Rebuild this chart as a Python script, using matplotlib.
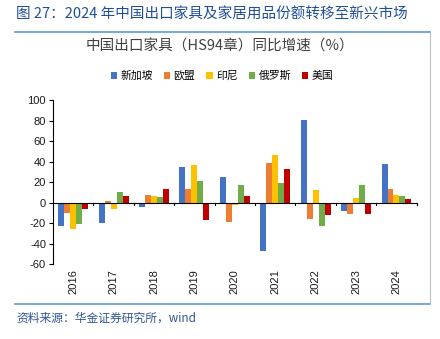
import matplotlib
matplotlib.use("Agg")
import matplotlib.pyplot as plt
import numpy as np
from matplotlib.lines import Line2D
from matplotlib.patches import Patch

plt.rcParams['font.family'] = ['Liberation Sans', 'Noto Sans CJK SC', 'DejaVu Sans']

years = ["2016", "2017", "2018", "2019", "2020", "2021", "2022", "2023", "2024"]
series_names = ["新加坡", "欧盟", "印尼", "俄罗斯", "美国"]
singapore = [-23, -19.5, -4, 35, 24.7, -47.5, 80.5, -8.4, 37.7]
eu = [-9.7, 1.4, 7.2, 13, -18.8, 38.3, -16.2, -11, 13.6]
indonesia = [-26, -6.5, 6.5, 37, -2, 46, 12.4, 4.6, 7.2]
russia = [-20.7, 10.4, 5.8, 21.4, 17.5, 19.5, -22.7, 17.5, 6.5]
usa = [-5.8, 6.5, 13.6, -16.8, 6.5, 33, -12.3, -11, 3.3]
series = [singapore, eu, indonesia, russia, usa]
colors = ["#4472C4", "#ED7D31", "#FFC000", "#70AD47", "#C00000"]

fig = plt.figure(figsize=(4.4, 3.39), dpi=100)
ax = fig.add_axes([0.1205, 0.2204, 0.947 - 0.1205, 0.705 - 0.2204])

x = np.arange(len(years))
w = 0.148
for i, (vals, c) in enumerate(zip(series, colors)):
    ax.bar(x + (i - 2) * w, vals, width=w, color=c, edgecolor='none', zorder=2)

ax.set_xlim(-0.5, len(years) - 0.5)
ax.set_ylim(-60, 100)
ax.set_yticks(np.arange(-60, 101, 20))
ax.set_yticklabels([str(v) for v in range(-60, 101, 20)], fontsize=8, color='#1a1a1a')
for s in ['top', 'right', 'bottom']:
    ax.spines[s].set_visible(False)
ax.spines['left'].set_color('#000000')
ax.spines['left'].set_linewidth(0.8)
ax.tick_params(axis='y', length=3, width=0.8, pad=2)
ax.axhline(0, color='#000000', lw=0.8, zorder=3)
ax.set_xticks([])
# category boundary ticks on zero line
for b in np.arange(0.5, len(years) - 0.5 + 1e-9, 1.0):
    ax.plot([b, b], [0, -1.8], color='#000000', lw=0.8, zorder=3, clip_on=False)
for xi, yl in zip(x, years):
    ax.text(xi, -0.105, yl, transform=ax.get_xaxis_transform(), rotation=90,
            ha='center', va='center', fontsize=8, color='#1a1a1a')

# legend
handles = [Patch(facecolor=c, edgecolor='none') for c in colors]
fig.legend(handles, series_names, loc='center', bbox_to_anchor=(222 / 440, 1 - 76 / 339),
           ncol=5, frameon=False, handlelength=0.6, handleheight=0.6,
           handletextpad=0.3, columnspacing=1.0,
           prop={'family': ['Noto Sans CJK SC'], 'size': 7.8})

# titles and frame
fig.text(16 / 440, 1 - 15 / 339, "图 27：2024 年中国出口家具及家居用品份额转移至新兴市场",
         ha='left', va='center', fontsize=10.5, color='#1F4E9A',
         family=['Noto Sans CJK SC', 'DejaVu Sans'])
fig.text(220 / 440, 1 - 47 / 339, "中国出口家具（HS94章）同比增速（%）",
         ha='center', va='center', fontsize=10.5, color='#404040',
         family=['Noto Sans CJK SC', 'DejaVu Sans'])
fig.add_artist(Line2D([15 / 440, 430 / 440], [1 - 32 / 339, 1 - 32 / 339],
                      color='#5B9BD5', lw=1.2, transform=fig.transFigure))
fig.add_artist(Line2D([15 / 440, 430 / 440], [1 - 304 / 339, 1 - 304 / 339],
                      color='#5B9BD5', lw=1.2, transform=fig.transFigure))
fig.add_artist(Line2D([430 / 440, 430 / 440], [1 - 32 / 339, 1 - 304 / 339],
                      color='#BFBFBF', lw=0.8, transform=fig.transFigure))
fig.text(16 / 440, 1 - 318 / 339, "资料来源：华金证券研究所，wind",
         ha='left', va='center', fontsize=8.5, color='#2F5597', style='italic',
         family=['Noto Sans CJK SC', 'DejaVu Sans'])

fig.savefig("out.png", dpi=100)
